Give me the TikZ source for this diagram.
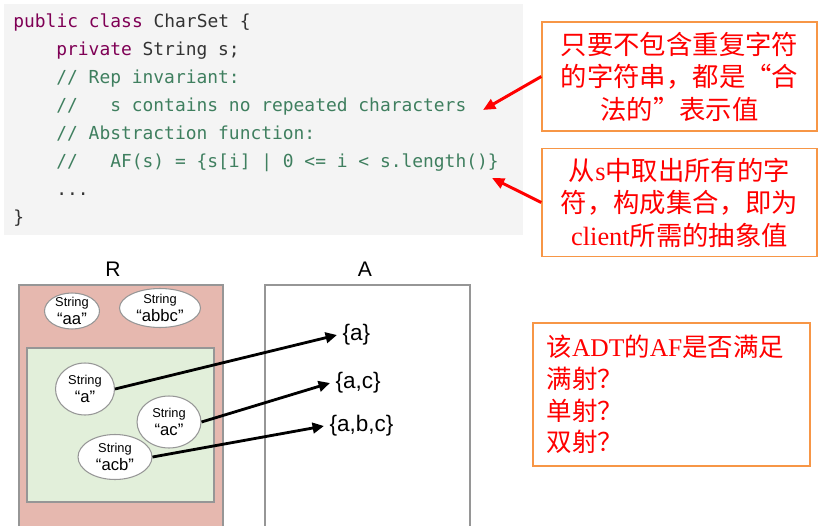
\documentclass[tikz,border=0pt]{standalone}
\usepackage{fontspec}
\setmainfont{Liberation Serif}
\setsansfont{Liberation Sans}
\newfontfamily\codefont{DejaVu Sans Mono}
\newfontfamily\cjk{Noto Sans CJK SC}
\usetikzlibrary{arrows.meta,positioning,shapes.geometric}
\definecolor{kw}{RGB}{127,0,85}
\definecolor{cmt}{RGB}{63,127,95}
\definecolor{plain}{RGB}{51,51,51}
\definecolor{codebg}{RGB}{244,244,244}
\definecolor{callout}{RGB}{247,150,70}
\definecolor{rset}{RGB}{230,184,175}
\definecolor{valid}{RGB}{226,239,218}
\definecolor{edge}{RGB}{150,150,150}

\begin{document}
\begin{tikzpicture}[x=0.02cm,y=-0.02cm,
  codeln/.style={anchor=base west,inner sep=0pt,text=plain,
                 font=\codefont\fontsize{10.2}{12}\selectfont},
  note/.style={rectangle,draw=callout,line width=0.8pt,fill=white,text=red,
               align=center,inner sep=0pt,minimum width=5.5cm,
               font=\fontsize{15}{18.5}\selectfont},
  title/.style={font=\sffamily\fontsize{12}{14}\selectfont,inner sep=0pt},
  setbox/.style={rectangle,draw=edge,line width=0.6pt,inner sep=0pt},
  strnode/.style={ellipse,draw=edge,line width=0.6pt,fill=white,inner sep=0pt},
  strtxt/.style={align=center,inner sep=0pt,font=\sffamily\fontsize{7.3}{10}\selectfont},
  absval/.style={anchor=west,inner xsep=3pt,inner ysep=0pt,
                 font=\sffamily\fontsize{12.8}{15}\selectfont},
  redarr/.style={-{Triangle[length=7pt,width=6pt]},red,line width=1.7pt},
  maparr/.style={-{Triangle[length=6.5pt,width=6pt]},black,line width=1.6pt}]

  \useasboundingbox (0,0) rectangle (830,526);

  % code listing
  \node[fill=codebg,minimum width=10.38cm,minimum height=4.62cm,inner sep=0pt]
    (code) at (263.5,119.5) {};
  \node[codeln] (l1) at (13,28)  {\textcolor{kw}{public class} CharSet \{};
  \node[codeln] (l2) at (56,56)  {\textcolor{kw}{private} String s;};
  \node[codeln,text=cmt] (l3) at (56,84)  {// Rep invariant:};
  \node[codeln,text=cmt] (l4) at (56,112) {//\ \ \ s contains no repeated characters};
  \node[codeln,text=cmt] (l5) at (56,140) {// Abstraction function:};
  \node[codeln,text=cmt] (l6) at (56,168) {//\ \ \ AF(s) = \{s[i] | 0 <= i < s.length()\}};
  \node[codeln] (l7) at (56,196) {...};
  \node[codeln] (l8) at (13,224) {\}};

  % callouts
  \node[note,minimum height=2.18cm] (n1) at (679.5,76.5)
    {{\cjk 只要不包含重复字符}\\{\cjk 的字符串，都是“合}\\{\cjk 法的”表示值}};
  \node[note,minimum height=2.16cm] (n2) at (679.5,202.5)
    {{\cjk 从}s{\cjk 中取出所有的字}\\{\cjk 符，构成集合，即为}\\client{\cjk 所需的抽象值}};
  \coordinate (t1) at (483,110);
  \coordinate (t2) at (492,178);
  \draw[redarr] (n1.west) -- (t1);
  \draw[redarr] (n2.west) -- (t2);

  % R and A
  \node[title] (rlab) at (113,269) {R};
  \node[title] (alab) at (365,269) {A};
  \node[setbox,fill=rset,minimum width=4.08cm,minimum height=4.9cm] (rbox) at (121,407.5) {};
  \node[setbox,fill=valid,minimum width=3.74cm,minimum height=3.08cm] (vbox) at (120.5,425) {};
  \node[setbox,fill=white,minimum width=4.1cm,minimum height=4.9cm] (abox) at (367.5,407.5) {};

  \node[strnode,minimum width=1.1cm,minimum height=0.72cm,
        label={[strtxt]center:String\\{\fontsize{9.5}{10}\selectfont “aa”}}] (saa) at (72,311) {};
  \node[strnode,minimum width=1.62cm,minimum height=0.78cm,
        label={[strtxt]center:String\\{\fontsize{9.5}{10}\selectfont “abbc”}}] (sabbc) at (160,308) {};
  \node[strnode,minimum width=1.18cm,minimum height=1.04cm,
        label={[strtxt]center:String\\{\fontsize{9.5}{10}\selectfont “a”}}] (sa) at (85,389) {};
  \node[strnode,minimum width=1.28cm,minimum height=1.04cm,
        label={[strtxt]center:String\\{\fontsize{9.5}{10}\selectfont “ac”}}] (sac) at (169,422) {};
  \node[strnode,minimum width=1.48cm,minimum height=0.9cm,
        label={[strtxt]center:String\\{\fontsize{9.5}{10}\selectfont “acb”}}] (sacb) at (115,457) {};

  \node[absval] (va)   at (337,335) {\{a\}};
  \node[absval] (vac)  at (330,383) {\{a,c\}};
  \node[absval] (vabc) at (324,426) {\{a,b,c\}};

  \draw[maparr] (sa.east) -- (va.west);
  \draw[maparr] (sac.east) -- (vac.west);
  \draw[maparr] (sacb.east) -- (vabc.west);

  % question
  \node[rectangle,draw=callout,line width=0.8pt,fill=white,text=red,align=left,
        inner xsep=0.27cm,inner ysep=0pt,text width=5cm,minimum height=2.86cm,
        font=\fontsize{14.5}{18}\selectfont] (qb) at (671.5,394.5)
    {{\cjk 该}ADT{\cjk 的}AF{\cjk 是否满足}\\{\cjk 满射？}\\{\cjk 单射？}\\{\cjk 双射？}};
\end{tikzpicture}
\end{document}
